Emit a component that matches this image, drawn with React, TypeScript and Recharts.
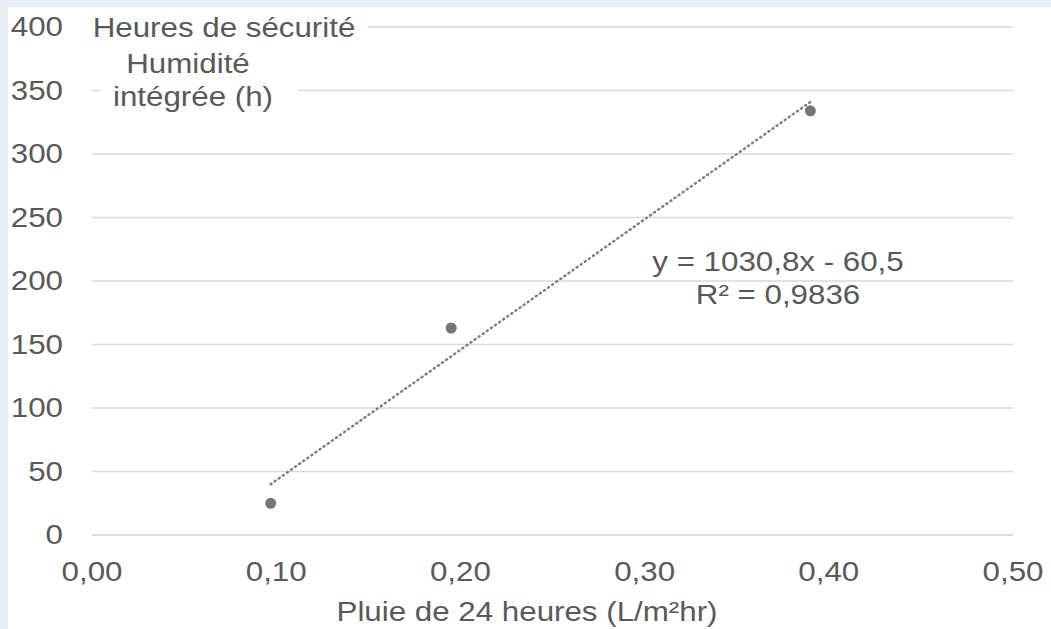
import React from "react";
import { ScatterChart, Scatter, XAxis, YAxis, CartesianGrid } from "recharts";

const xTicks = [0, 0.1, 0.2, 0.3, 0.4, 0.5];
const yTicks = [0, 50, 100, 150, 200, 250, 300, 350, 400];
const rainfall = [0.097, 0.195, 0.39];
const safetyHours = [25, 163, 334];
const trendX = [0.097, 0.39];
const trendY = [40, 341];

const points = rainfall.map((x, i) => ({ x, y: safetyHours[i] }));
const trend = trendX.map((x, i) => ({ x, y: trendY[i] }));

const TEXT = "#595959";
const FONT = "'Liberation Sans', Arial, sans-serif";

const T = ({ x, y, anchor = "middle", size = 27, children }: any) => (
  <text
    transform={`translate(${x} ${y}) scale(1.16 1)`}
    textAnchor={anchor}
    dominantBaseline="central"
    fill={TEXT}
    fontSize={size}
    fontFamily={FONT}
  >
    {children}
  </text>
);

const YTick = ({ y, payload }: any) => (
  <T x={55} y={y} anchor="end">
    {payload.value}
  </T>
);

const XTick = ({ x, payload }: any) => (
  <T x={x} y={565}>
    {payload.value.toFixed(2).replace(".", ",")}
  </T>
);

const Dot = ({ cx, cy }: any) => <circle cx={cx} cy={cy} r={5.5} fill="#767676" />;

export default function App() {
  return (
    <div style={{ position: "fixed", left: 0, top: 0, width: 1051, height: 629, background: "#E7EEF6" }}>
      <div style={{ position: "absolute", left: 8, top: 7, width: 1043, height: 622, background: "#fff" }}>
        <ScatterChart width={1043} height={622} margin={{ top: 20, right: 38, left: 0, bottom: 0 }}>
          <CartesianGrid vertical={false} stroke="#D9D9D9" strokeWidth={1.5} />
          <XAxis
            type="number"
            dataKey="x"
            domain={[0, 0.5]}
            ticks={xTicks}
            height={94}
            tickLine={false}
            axisLine={{ stroke: "#D9D9D9", strokeWidth: 1.5 }}
            tick={<XTick />}
            interval={0}
          />
          <YAxis
            type="number"
            dataKey="y"
            domain={[0, 400]}
            ticks={yTicks}
            width={84}
            tickLine={false}
            axisLine={false}
            tick={<YTick />}
            interval={0}
          />
          <Scatter
            data={trend}
            line={{ stroke: "#7f7f7f", strokeWidth: 2.5, strokeDasharray: "1 4", strokeLinecap: "round" }}
            shape={() => <g />}
            isAnimationActive={false}
          />
          <Scatter data={points} shape={<Dot />} isAnimationActive={false} />
        </ScatterChart>
        <svg width={1043} height={622} style={{ position: "absolute", left: 0, top: 0, pointerEvents: "none" }}>
          <rect x={77} y={3} width={283} height={35} fill="#fff" />
          <rect x={92} y={38} width={198} height={80} fill="#fff" />
          <T x={216} y={21}>Heures de sécurité</T>
          <T x={180} y={57}>Humidité</T>
          <T x={185} y={90}>intégrée (h)</T>
          <T x={770} y={255}>y = 1030,8x - 60,5</T>
          <T x={770} y={288}>R² = 0,9836</T>
          <T x={519} y={605}>Pluie de 24 heures (L/m²hr)</T>
        </svg>
      </div>
    </div>
  );
}
